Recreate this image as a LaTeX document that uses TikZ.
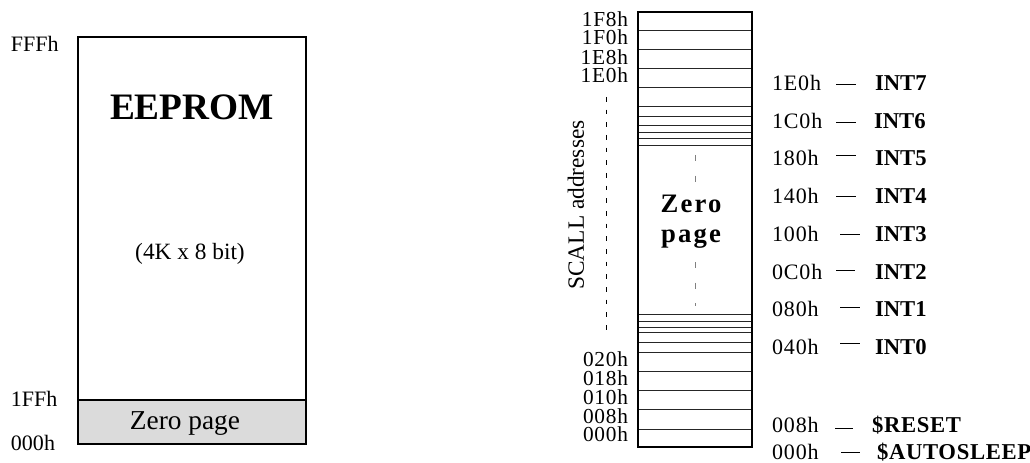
\documentclass[tikz,border=0pt]{standalone}
\usepackage{fontspec}
\setmainfont{Liberation Serif}
\newcommand\szLab{\fontsize{16.5}{19}\selectfont}
\newcommand\szAddr{\fontsize{16}{18}\selectfont\addfontfeature{LetterSpace=3.5}}
\newcommand\szRow{\fontsize{16.5}{20}\selectfont\addfontfeature{LetterSpace=4}}
\newcommand\szName{\fontsize{17}{20}\selectfont\bfseries}
\begin{document}
\begin{tikzpicture}[x=0.75pt,y=-0.75pt,
  txt/.style={inner sep=0pt, outer sep=0pt},
  box/.style={draw=black, line width=1pt},
  cell/.style={draw=black!85, line width=0.7pt},
  dashline/.style={line width=0.7pt}]
\useasboundingbox (0,0) rectangle (1030,463);

% ---------- left: EEPROM ----------
\fill[gray!28] (78,400) rectangle (306,444);
\draw[box] (78,37) rectangle (306,444);
\draw[box] (78,400) -- (306,400);
\node[txt, anchor=base] (eeprom) at (192,120) {\fontsize{28}{30}\selectfont\bfseries EEPROM};
\node[txt, anchor=base] (size) at (190,259) {\fontsize{17.5}{20}\selectfont (4K x 8 bit)};
\node[txt, anchor=base] (zp) at (185,429) {\fontsize{20.5}{24}\selectfont Zero page};
\node[txt, anchor=base west] (fff) at (11,52) {\szLab FFFh};
\node[txt, anchor=base west] (ff1) at (11,406) {\szLab 1FFh};
\node[txt, anchor=base west] (z0) at (11,450) {\szLab 000h};

% ---------- right: zero page detail ----------
\foreach \y in {30,49,68,87,106,116,125,132,138,145,314,321,327,332,342,352,371,390,409,429}
  \draw[cell] (638,\y) -- (752,\y);
\draw[box] (638,12) rectangle (752,447);

\node[txt, anchor=base east] (a1f8) at (628,26.7) {\szAddr 1F8h};
\node[txt, anchor=base east] (a1f0) at (628,45) {\szAddr 1F0h};
\node[txt, anchor=base east] (a1e8) at (628,64.5) {\szAddr 1E8h};
\node[txt, anchor=base east] (a1e0) at (628,83) {\szAddr 1E0h};
\node[txt, anchor=base east] (a020) at (628,366.7) {\szAddr 020h};
\node[txt, anchor=base east] (a018) at (628,385) {\szAddr 018h};
\node[txt, anchor=base east] (a010) at (628,404.5) {\szAddr 010h};
\node[txt, anchor=base east] (a008) at (628,423.5) {\szAddr 008h};
\node[txt, anchor=base east] (a000) at (628,441.5) {\szAddr 000h};

\draw[dashline, dash pattern=on 3.5pt off 6pt] (606,97) -- (606,336);
\node[txt, rotate=90] (scall) at (576,205) {\fontsize{17.5}{20}\selectfont SCALL addresses};

\draw[dashline, draw=gray, dash pattern=on 4.5pt off 11pt] (695,155) -- (695,190);
\draw[dashline, draw=gray, dash pattern=on 4.5pt off 11pt] (695,262) -- (695,306);
\node[txt, anchor=base] (zero) at (691,213) {\fontsize{20}{24}\selectfont\bfseries\addfontfeature{LetterSpace=8}Zero};
\node[txt, anchor=base] (page) at (691,243) {\fontsize{20}{24}\selectfont\bfseries\addfontfeature{LetterSpace=8}page};

% ---------- right labels ----------
\node[txt, anchor=base west] (r7) at (772,90.5) {\szRow 1E0h};
\node[txt, anchor=base west] (n7) at (875,90.5) {\szName INT7};
\draw[dashline] (836,84) -- (856,84);
\node[txt, anchor=base west] (r6) at (772,128.2) {\szRow 1C0h};
\node[txt, anchor=base west] (n6) at (874,128.2) {\szName INT6};
\draw[dashline] (836,122) -- (856,122);
\node[txt, anchor=base west] (r5) at (772,165.9) {\szRow 180h};
\node[txt, anchor=base west] (n5) at (875,165.9) {\szName INT5};
\draw[dashline] (836,155) -- (856,155);
\node[txt, anchor=base west] (r4) at (772,203.6) {\szRow 140h};
\node[txt, anchor=base west] (n4) at (875,203.6) {\szName INT4};
\draw[dashline] (836,196) -- (856,196);
\node[txt, anchor=base west] (r3) at (772,241.3) {\szRow 100h};
\node[txt, anchor=base west] (n3) at (875,241.3) {\szName INT3};
\draw[dashline] (840,234) -- (860,234);
\node[txt, anchor=base west] (r2) at (772,279) {\szRow 0C0h};
\node[txt, anchor=base west] (n2) at (875,279) {\szName INT2};
\draw[dashline] (836,270) -- (855,270);
\node[txt, anchor=base west] (r1) at (772,316.7) {\szRow 080h};
\node[txt, anchor=base west] (n1) at (875,316.7) {\szName INT1};
\draw[dashline] (840,307) -- (860,307);
\node[txt, anchor=base west] (r0) at (772,354.4) {\szRow 040h};
\node[txt, anchor=base west] (n0) at (875,354.4) {\szName INT0};
\draw[dashline] (840,343) -- (860,343);
\node[txt, anchor=base west] (rr) at (772,432) {\szRow 008h};
\node[txt, anchor=base west] (nr) at (872,432) {\szName\addfontfeature{LetterSpace=3}\$RESET};
\draw[dashline] (835,428) -- (853,428);
\node[txt, anchor=base west] (ra) at (772,459) {\szRow 000h};
\node[txt, anchor=base west] (na) at (877,459) {\szName\addfontfeature{LetterSpace=3}\$AUTOSLEEP};
\draw[dashline] (841,452) -- (860,452);
\end{tikzpicture}
\end{document}
